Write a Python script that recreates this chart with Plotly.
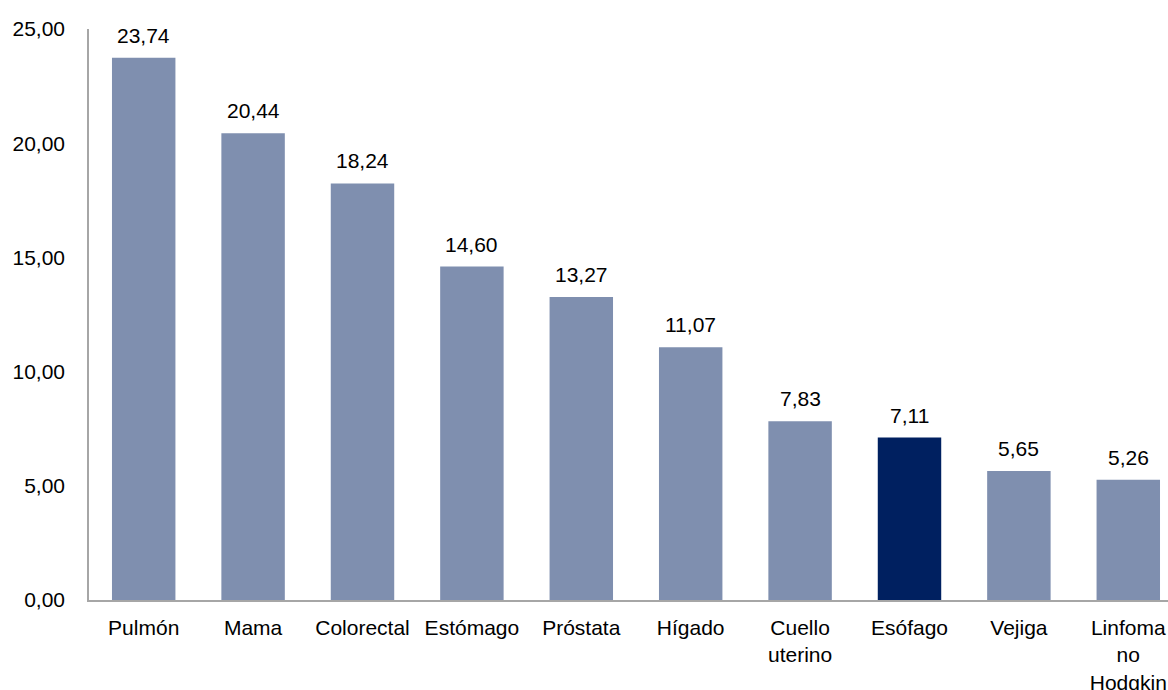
import plotly.graph_objects as go

# Incidence by cancer site
categories = ["Pulmón", "Mama", "Colorectal", "Estómago", "Próstata", "Hígado",
              "Cuello<br>uterino", "Esófago", "Vejiga", "Linfoma<br>no<br>Hodgkin"]
values = [23.74, 20.44, 18.24, 14.60, 13.27, 11.07, 7.83, 7.11, 5.65, 5.26]
highlight = "Esófago"

base_color = "#7F8FAF"
accent_color = "#002060"
colors = [accent_color if c == highlight else base_color for c in categories]

font = dict(family="Liberation Sans, Arial, sans-serif", size=21, color="#000000")
positions = list(range(len(categories)))

fig = go.Figure(
    go.Bar(
        x=positions,
        y=values,
        marker=dict(color=colors, line=dict(width=0)),
        width=0.58,
        hoverinfo="x+y",
    )
)

# value labels above each bar
for x, v in zip(positions, values):
    fig.add_annotation(
        x=x, y=v,
        text=f"{v:.2f}".replace(".", ","),
        showarrow=False,
        yanchor="bottom",
        yshift=9,
        font=font,
    )

fig.update_layout(
    width=1168,
    height=690,
    margin=dict(l=89, r=0, t=29, b=90),
    paper_bgcolor="white",
    plot_bgcolor="white",
    separators=",.",
    font=font,
    showlegend=False,
)

fig.update_xaxes(
    range=[-0.5, 9.363],
    tickmode="array",
    tickvals=positions,
    ticktext=categories,
    showline=True,
    linecolor="#A6A6A6",
    linewidth=1.5,
    showgrid=False,
    zeroline=False,
    ticks="",
    ticklabelstandoff=8,
    tickfont=font,
    automargin=False,
)

fig.update_yaxes(
    range=[0, 25],
    tick0=0,
    dtick=5,
    tickformat=".2f",
    showline=True,
    linecolor="#A6A6A6",
    linewidth=1.5,
    showgrid=False,
    zeroline=False,
    ticks="",
    ticklabelstandoff=18,
    tickfont=font,
    automargin=False,
)

fig.write_html("out.html")
